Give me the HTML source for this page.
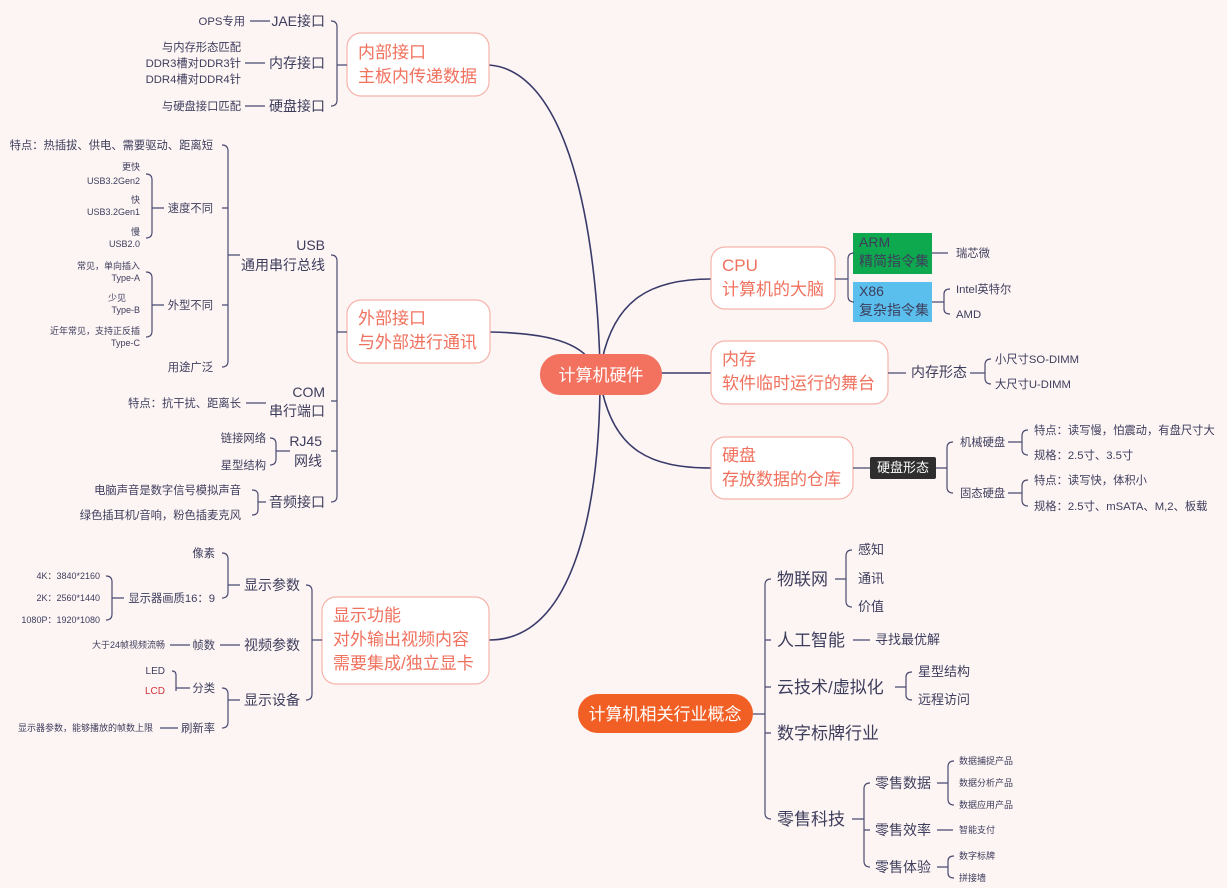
<!DOCTYPE html>
<html><head><meta charset="utf-8"><style>
html,body{margin:0;padding:0;background:#fdf5f4;}
svg{display:block;font-family:"Liberation Sans","Noto Sans CJK SC",sans-serif;}
.t{fill:#3d3d5c;}
.b{fill:#f0715e;font-size:17px;}
.l{fill:none;stroke:#4a4a70;stroke-width:1.2;}
.m{fill:none;stroke:#3a3a6a;stroke-width:1.6;}
</style></head><body>
<svg width="1227" height="888" viewBox="0 0 1227 888">
<rect width="1227" height="888" fill="#fdf5f4"/>
<path class="m" d="M489,65 C560,70 595,200 600,365"/>
<path class="m" d="M490,332 C540,333 575,340 590,360"/>
<path class="m" d="M600,390 C598,520 570,640 489,640"/>
<path class="m" d="M602,360 C615,300 650,279 711,279"/>
<path class="m" d="M660,373 L711,373"/>
<path class="m" d="M602,390 C615,450 650,468 711,468"/>
<rect x="540" y="354" width="122" height="41" rx="20" fill="#f2725f"/>
<text x="601" y="381" text-anchor="middle" fill="#fff" font-size="17">计算机硬件</text>
<rect x="578" y="694" width="175" height="39" rx="19.5" fill="#f15f25"/>
<text x="665" y="720" text-anchor="middle" fill="#fff" font-size="17">计算机相关行业概念</text>

<g fill="#fff" stroke="#f5b3aa" stroke-width="1.2">
<rect x="347" y="33" width="142" height="63" rx="14"/>
<rect x="347" y="300" width="143" height="63" rx="14"/>
<rect x="322" y="597" width="167" height="87" rx="14"/>
<rect x="711" y="247" width="124" height="62" rx="14"/>
<rect x="711" y="341" width="177" height="63" rx="14"/>
<rect x="711" y="437" width="142" height="62" rx="14"/>
</g>
<text class="b" x="358" y="58">内部接口</text><text class="b" x="358" y="82">主板内传递数据</text>
<text class="b" x="358" y="324">外部接口</text><text class="b" x="358" y="348">与外部进行通讯</text>
<text class="b" x="333" y="621">显示功能</text><text class="b" x="333" y="645">对外输出视频内容</text><text class="b" x="333" y="669">需要集成/独立显卡</text>
<text class="b" x="722" y="271">CPU</text><text class="b" x="722" y="295">计算机的大脑</text>
<text class="b" x="722" y="365">内存</text><text class="b" x="722" y="389">软件临时运行的舞台</text>
<text class="b" x="722" y="461">硬盘</text><text class="b" x="722" y="485">存放数据的仓库</text>

<rect x="853" y="233" width="79" height="41" fill="#0ea84e"/>
<rect x="853" y="282" width="79" height="40" fill="#5bbfee"/>
<g class="t" font-size="14"><text x="859" y="247">ARM</text><text x="859" y="266">精简指令集</text><text x="859" y="296">X86</text><text x="859" y="315">复杂指令集</text></g>
<path class="l" d="M835,279 H848 M854,253 Q848,253 848,259 V296 Q848,302 854,302"/>
<path class="l" d="M932,253 H948 M932,302 H944 M950,289 Q944,289 944,294 V309 Q944,314 950,314"/>
<g class="t" font-size="11.3"><text x="956" y="257">瑞芯微</text><text x="956" y="293">Intel英特尔</text><text x="956" y="318">AMD</text></g>
<path class="l" d="M888,373 H906 M970,373 H985 M991,359 Q985,359 985,365 V378 Q985,384 991,384"/>
<text class="t" x="911" y="377" font-size="14">内存形态</text>
<g class="t" font-size="11.3"><text x="995" y="363">小尺寸SO-DIMM</text><text x="995" y="388">大尺寸U-DIMM</text></g>
<path class="l" d="M853,468 H870 M936,468 H947 M953,442 Q947,442 947,448 V487 Q947,493 953,493"/>
<rect x="870" y="457" width="66" height="22" rx="2" fill="#2e2e2e"/>
<text x="903" y="472" text-anchor="middle" fill="#fff" font-size="13">硬盘形态</text>
<g class="t" font-size="11.3"><text x="960" y="446">机械硬盘</text><text x="960" y="497">固态硬盘</text>
<text x="1034" y="434">特点：读写慢，怕震动，有盘尺寸大</text><text x="1034" y="459">规格：2.5寸、3.5寸</text>
<text x="1034" y="484">特点：读写快，体积小</text><text x="1034" y="510">规格：2.5寸、mSATA、M,2、板载</text></g>
<path class="l" d="M1008,442 H1022 M1028,430 Q1022,430 1022,436 V449 Q1022,455 1028,455 M1008,493 H1022 M1028,480 Q1022,480 1022,486 V500 Q1022,506 1028,506"/>

<path class="l" d="M347,65 H337 M331,21 Q337,21 337,27 V100 Q337,106 331,106 M250,21 H270 M245,63 H265 M245,106 H265"/>
<g class="t" font-size="14" text-anchor="end"><text x="325" y="26">JAE接口</text><text x="325" y="68">内存接口</text><text x="325" y="111">硬盘接口</text></g>
<g class="t" font-size="11.3" text-anchor="end"><text x="245" y="25">OPS专用</text><text x="241" y="51">与内存形态匹配</text><text x="241" y="67">DDR3槽对DDR3针</text><text x="241" y="83">DDR4槽对DDR4针</text><text x="241" y="110">与硬盘接口匹配</text></g>

<path class="l" d="M347,332 H337 M331,255 Q337,255 337,261 V496 Q337,502 331,502"/>
<path class="l" d="M337,401 H331 M337,451 H331"/>
<g class="t" font-size="14" text-anchor="end"><text x="325" y="250">USB</text><text x="325" y="270">通用串行总线</text>
<text x="325" y="397">COM</text><text x="325" y="416">串行端口</text><text x="322" y="446">RJ45</text><text x="322" y="466">网线</text><text x="325" y="507">音频接口</text></g>
<path class="l" d="M240,255 H228 M222,145 Q228,145 228,151 V361 Q228,367 222,367 M228,208 H222 M228,305 H222"/>
<g class="t" font-size="11.3" text-anchor="end"><text x="213" y="149">特点：热插拔、供电、需要驱动、距离短</text><text x="213" y="212">速度不同</text><text x="213" y="309">外型不同</text><text x="213" y="371">用途广泛</text>
<text x="241" y="407">特点：抗干扰、距离长</text><text x="266" y="442">链接网络</text><text x="266" y="469">星型结构</text>
<text x="241" y="494">电脑声音是数字信号模拟声音</text><text x="241" y="519">绿色插耳机/音响，粉色插麦克风</text></g>
<path class="l" d="M164,208 H152 M146,174 Q152,174 152,180 V232 Q152,238 146,238 M164,305 H152 M146,272 Q152,272 152,278 V331 Q152,337 146,337"/>
<g class="t" font-size="9" text-anchor="end"><text x="140" y="170">更快</text><text x="140" y="184">USB3.2Gen2</text><text x="140" y="203">快</text><text x="140" y="215">USB3.2Gen1</text><text x="140" y="235">慢</text><text x="140" y="247">USB2.0</text>
<text x="140" y="269">常见，单向插入</text><text x="140" y="281">Type-A</text><text x="126" y="301">少见</text><text x="140" y="313">Type-B</text><text x="140" y="334">近年常见，支持正反插</text><text x="140" y="346">Type-C</text></g>
<path class="l" d="M246,403 H266 M290,451 H276 M270,438 Q276,438 276,444 V459 Q276,465 270,465 M266,502 H258 M252,490 Q258,490 258,495 V510 Q258,515 252,515"/>

<path class="l" d="M322,640 H312 M306,585 Q312,585 312,591 V694 Q312,700 306,700"/>
<g class="t" font-size="14" text-anchor="end"><text x="300" y="590">显示参数</text><text x="300" y="650">视频参数</text><text x="300" y="705">显示设备</text></g>
<path class="l" d="M240,585 H228 M222,553 Q228,553 228,559 V592 Q228,598 222,598 M240,700 H228 M222,688 Q228,688 228,694 V722 Q228,728 222,728 M220,645 H240"/>
<g class="t" font-size="11.3" text-anchor="end"><text x="215" y="557">像素</text><text x="215" y="602">显示器画质16：9</text><text x="215" y="649">帧数</text><text x="215" y="692">分类</text><text x="215" y="732">刷新率</text></g>
<path class="l" d="M124,598 H112 M106,576 Q112,576 112,582 V614 Q112,620 106,620 M170,645 H190 M190,688 H176 M172,671 Q176,671 176,675 V691 M160,728 H178"/>
<g class="t" font-size="9" text-anchor="end"><text x="100" y="579">4K：3840*2160</text><text x="100" y="601">2K：2560*1440</text><text x="100" y="623">1080P：1920*1080</text><text x="165" y="648">大于24帧视频流畅</text><text x="165" y="674" font-size="10">LED</text><text x="165" y="694" font-size="10" fill="#d0303a">LCD</text><text x="153" y="731">显示器参数，能够播放的帧数上限</text></g>

<path class="l" d="M753,714 H765 M771,579 Q765,579 765,585 V813 Q765,819 771,819 M765,640 H771 M765,687 H771 M765,733 H771"/>
<g class="t" font-size="17"><text x="777" y="585">物联网</text><text x="777" y="646">人工智能</text><text x="777" y="693">云技术/虚拟化</text><text x="777" y="739">数字标牌行业</text><text x="777" y="825">零售科技</text></g>
<path class="l" d="M835,579 H846 M852,550 Q846,550 846,556 V601 Q846,607 852,607 M853,640 H870 M895,687 H906 M912,672 Q906,672 906,677 V695 Q906,700 912,700"/>
<path class="l" d="M852,819 H864 M870,783 Q864,783 864,789 V861 Q864,867 870,867 M864,830 H870"/>
<g class="t" font-size="13"><text x="858" y="554">感知</text><text x="858" y="583">通讯</text><text x="858" y="611">价值</text><text x="875" y="644">寻找最优解</text><text x="918" y="676">星型结构</text><text x="918" y="704">远程访问</text></g>
<g class="t" font-size="14"><text x="875" y="788">零售数据</text><text x="875" y="835">零售效率</text><text x="875" y="872">零售体验</text></g>
<path class="l" d="M937,783 H948 M954,761 Q948,761 948,767 V799 Q948,805 954,805 M937,830 H953 M937,867 H948 M954,856 Q948,856 948,861 V873 Q948,878 954,878"/>
<g class="t" font-size="9"><text x="959" y="764">数据捕捉产品</text><text x="959" y="786">数据分析产品</text><text x="959" y="808">数据应用产品</text><text x="959" y="833">智能支付</text><text x="959" y="859">数字标牌</text><text x="959" y="881">拼接墙</text></g>
</svg>
</body></html>
